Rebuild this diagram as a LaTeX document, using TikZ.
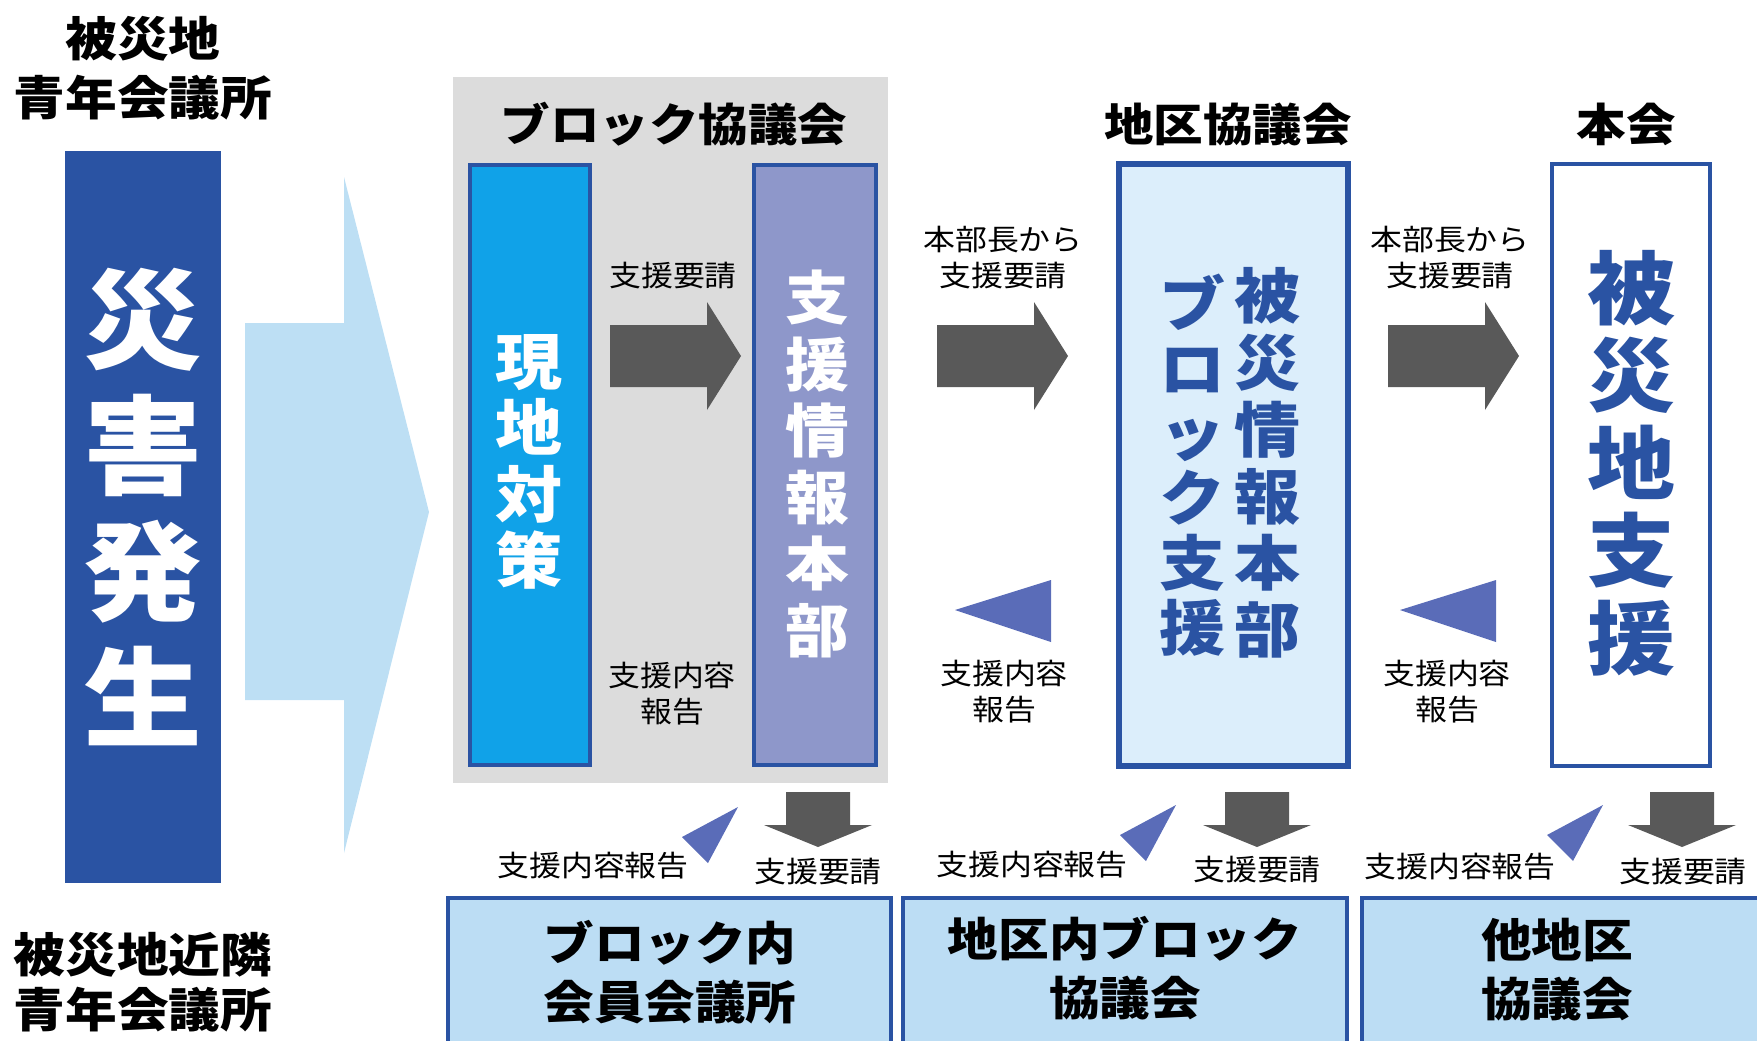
\documentclass[tikz,border=0pt]{standalone}
\usepackage{fontspec}
\setmainfont{Noto Sans CJK JP}[FakeStretch=1.1]
\definecolor{dblue}{HTML}{2A53A3}
\definecolor{chev}{HTML}{BDDFF4}
\definecolor{panel}{HTML}{DCDCDC}
\definecolor{cyanbox}{HTML}{10A2E8}
\definecolor{lavbox}{HTML}{8E97CA}
\definecolor{paleblue}{HTML}{DCEEFB}
\definecolor{botblue}{HTML}{BCDDF4}
\definecolor{agray}{HTML}{595959}
\definecolor{tricol}{HTML}{5A6CB8}
\newcommand\myfs[2]{\fontsize{#1}{#2}\selectfont}
\begin{document}
\begin{tikzpicture}[x=0.5pt,y=-0.5pt,
  box/.style={draw=dblue,line width=2.2pt,inner sep=0pt,outer sep=0pt},
  plain/.style={inner sep=0pt,outer sep=0pt},
  lbl/.style={font=\myfs{14.5}{18},align=center,inner sep=0pt},
  ttl/.style={font=\bfseries\myfs{22.5}{28},inner sep=0pt},
  sidettl/.style={font=\bfseries\myfs{23.5}{29.5},align=center,inner sep=0pt},
  bottxt/.style={font=\bfseries\myfs{23}{29.5},align=center,inner sep=0pt},
  vtxt/.style={align=center,inner sep=0pt},
  pics/rarr/.style={code={\fill[agray] (0,-31) -- (97,-31) -- (97,-54) -- (131,0) -- (97,54) -- (97,31) -- (0,31) -- cycle;}},
  pics/darr/.style={code={\fill[agray] (-32,0) -- (32,0) -- (32,33) -- (54,33) -- (0,55) -- (-54,33) -- (-32,33) -- cycle;}},
  pics/ltri/.style={code={\fill[tricol] (0,0) -- (96,-30) -- (96,32) -- cycle;}},
  pics/stri/.style={code={\fill[tricol] (0,0) -- (-56,30) -- (-30,56) -- cycle;}},
]
\useasboundingbox (0,0) rectangle (1757,1040);
\clip (0,0) rectangle (1757,1040);

% left column
\node[sidettl] (toplbl) at (143,68) {被災地\\青年会議所};
\node[sidettl,font=\bfseries\myfs{23.5}{27.5}] (botlbl) at (143,982) {被災地近隣\\青年会議所};
\node[plain,fill=dblue,minimum width=78pt,minimum height=366pt] (disaster) at (143,517) {};
\node[vtxt,font=\bfseries\myfs{54}{63},text=white] (disastertxt) at (143,507) {災\\害\\発\\生};

% chevron arrow
\fill[chev] (245,323) -- (344,323) -- (344,177) -- (429,512) -- (344,853) -- (344,700) -- (245,700) -- cycle;

% block council panel
\node[plain,fill=panel,minimum width=217.5pt,minimum height=353pt] (blockpanel) at (670.5,430) {};
\node[ttl] (blocktitle) at (674,124) {ブロック協議会};
\node[box,fill=cyanbox,minimum width=60pt,minimum height=300pt] (genchi) at (530,465) {};
\node[vtxt,font=\bfseries\myfs{30.5}{33.25},text=white] (genchitxt) at (529,462) {現\\地\\対\\策};
\node[box,fill=lavbox,minimum width=61pt,minimum height=300pt] (shien) at (815,465) {};
\node[vtxt,font=\bfseries\myfs{29}{33.25},text=white] (shientxt) at (817,464) {支\\援\\情\\報\\本\\部};
\node[lbl] (req1) at (673,276) {支援要請};
\pic at (610,356) {rarr};
\node[lbl] (rep1) at (672,694) {支援内容\\報告};

% district council
\node[ttl] (districttitle) at (1228,124) {地区協議会};
\node[lbl] (req2) at (1003,258) {本部長から\\支援要請};
\pic at (937,356) {rarr};
\pic at (955,610) {ltri};
\node[lbl] (rep2) at (1004,692) {支援内容\\報告};
\node[box,fill=paleblue,line width=2.6pt,minimum width=114.5pt,minimum height=301pt] (district) at (1233.5,465) {};
\node[vtxt,font=\bfseries\myfs{30}{33.4},text=dblue] (districttxtA) at (1267,463) {被\\災\\情\\報\\本\\部};
\node[vtxt,font=\bfseries\myfs{30}{32.4},text=dblue] (districttxtB) at (1192,465) {ブ\\ロ\\ッ\\ク\\支\\援};

% head office
\node[ttl] (hqtitle) at (1626,124) {本会};
\node[lbl] (req3) at (1450,258) {本部長から\\支援要請};
\pic at (1388,356) {rarr};
\pic at (1400,610) {ltri};
\node[lbl] (rep3) at (1447,692) {支援内容\\報告};
\node[box,fill=white,minimum width=79pt,minimum height=301pt] (hq) at (1631,465) {};
\node[vtxt,font=\bfseries\myfs{40}{43.75},text=dblue] (hqtxt) at (1631,463) {被\\災\\地\\支\\援};

% bottom row arrows and labels
\pic at (818,792) {darr};
\pic at (1257,792) {darr};
\pic at (1682,792) {darr};
\pic at (738,807) {stri};
\pic at (1176,805) {stri};
\pic at (1603,805) {stri};
\node[lbl] (brep1) at (593,866) {支援内容報告};
\node[lbl] (brep2) at (1032,865) {支援内容報告};
\node[lbl] (brep3) at (1460,867) {支援内容報告};
\node[lbl] (breq1) at (818,872) {支援要請};
\node[lbl] (breq2) at (1257,870) {支援要請};
\node[lbl] (breq3) at (1683,872) {支援要請};

% bottom boxes
\node[box,fill=botblue,minimum width=221.5pt,minimum height=81pt] (bbox1) at (669.5,979) {};
\node[box,fill=botblue,minimum width=222pt,minimum height=81pt] (bbox2) at (1125,979) {};
\node[box,fill=botblue,minimum width=219pt,minimum height=81pt] (bbox3) at (1581,979) {};
\node[bottxt] (bbox1txt) at (670,972) {ブロック内\\会員会議所};
\node[bottxt] (bbox2txt) at (1125,968) {地区内ブロック\\協議会};
\node[bottxt] (bbox3txt) at (1557,970) {他地区\\協議会};
\end{tikzpicture}
\end{document}
